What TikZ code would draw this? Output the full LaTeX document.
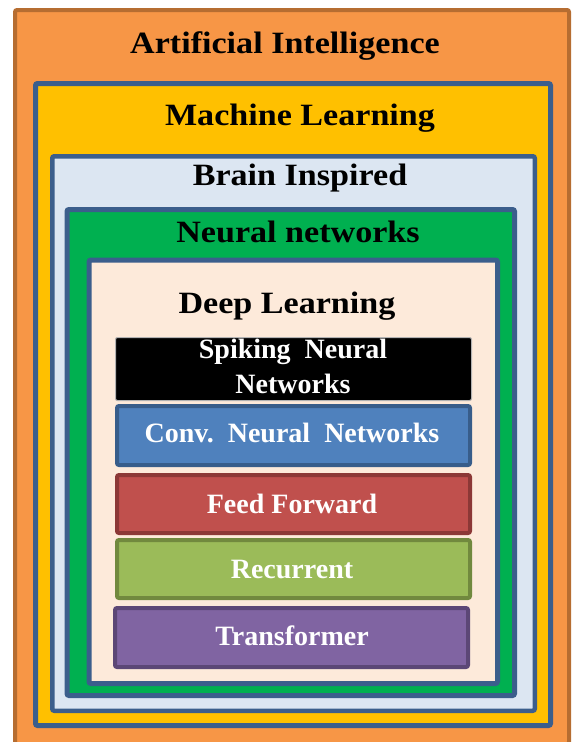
\documentclass[tikz,border=0pt]{standalone}
\usepackage{fontspec}
\setmainfont{Liberation Serif}
\newfontfamily\titlefont[FakeStretch=1.1]{Liberation Serif}
\definecolor{aifill}{HTML}{F79646}
\definecolor{aiedge}{HTML}{B66D31}
\definecolor{mlfill}{HTML}{FFC000}
\definecolor{blueedge}{HTML}{3B5E8C}
\definecolor{brainfill}{HTML}{DCE6F2}
\definecolor{nnfill}{HTML}{00B050}
\definecolor{dlfill}{HTML}{FDEADA}
\definecolor{convfill}{HTML}{4F81BD}
\definecolor{convedge}{HTML}{385D8A}
\definecolor{fffill}{HTML}{C0504D}
\definecolor{ffedge}{HTML}{8C3836}
\definecolor{recfill}{HTML}{9BBB59}
\definecolor{recedge}{HTML}{71893E}
\definecolor{trfill}{HTML}{8064A2}
\definecolor{tredge}{HTML}{5C4776}
\tikzset{
  box/.style={rectangle, rounded corners=2pt, inner sep=0pt, outer sep=0pt},
  layer/.style={box, draw=blueedge, line width=5pt},
  inner box/.style={box, line width=4pt},
  title/.style={anchor=base, inner sep=0pt, font=\titlefont\fontsize{31}{36}\selectfont\bfseries, text=black},
  label/.style={anchor=base, inner sep=0pt, font=\fontsize{28}{35}\selectfont\bfseries, text=white, align=center},
}
\begin{document}
\begin{tikzpicture}[x=1pt, y=-1pt]
\useasboundingbox[fill=white] (0,0) rectangle (571,742);
\node[box, fill=aifill, draw=aiedge, line width=4pt, minimum width=554pt, minimum height=734pt] (ai) at (292,377) {};
\node[layer, fill=mlfill, minimum width=515pt, minimum height=642pt] (ml) at (293,404.5) {};
\node[layer, fill=brainfill, line width=4.5pt, minimum width=482.5pt, minimum height=554.5pt] (brain) at (293.5,433.5) {};
\node[layer, fill=nnfill, minimum width=447.5pt, minimum height=486pt] (nn) at (290.75,452.5) {};
\node[layer, fill=dlfill, minimum width=408.5pt, minimum height=423.5pt] (dl) at (293.25,471.75) {};
\node[box, fill=black, draw=gray!60, line width=1pt, minimum width=356pt, minimum height=63pt] (snn) at (293.5,369) {};
\node[inner box, fill=convfill, draw=convedge, minimum width=353pt, minimum height=59pt] (cnn) at (293.5,435.5) {};
\node[inner box, fill=fffill, draw=ffedge, minimum width=353pt, minimum height=58pt] (ff) at (293.5,504) {};
\node[inner box, fill=recfill, draw=recedge, minimum width=353pt, minimum height=58pt] (rec) at (293.5,569) {};
\node[inner box, fill=trfill, draw=tredge, minimum width=353pt, minimum height=59pt] (tr) at (291.5,637.5) {};
\node[title] (tai) at (285,53) {Artificial Intelligence};
\node[title] (tml) at (300,125) {Machine Learning};
\node[title] (tbrain) at (300,185) {Brain Inspired};
\node[title] (tnn) at (298,242) {Neural networks};
\node[title] (tdl) at (287,313) {Deep Learning};
\node[label] (lsnn) at (293,393) {Spiking\ \ Neural\\Networks};
\node[label] (lcnn) at (292,442) {Conv.\ \ Neural\ \ Networks};
\node[label] (lff) at (292,513) {Feed Forward};
\node[label] (lrec) at (292,578) {Recurrent};
\node[label] (ltr) at (292,645) {Transformer};
\end{tikzpicture}
\end{document}
